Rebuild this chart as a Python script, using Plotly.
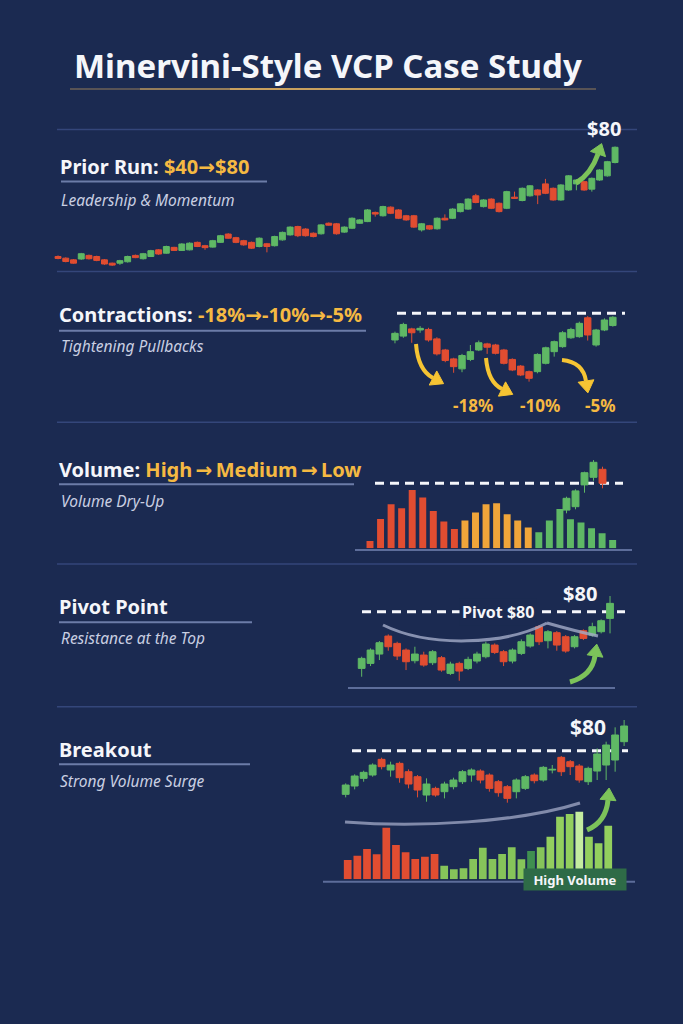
import math
import plotly.graph_objects as go

W, H = 683, 1024
BG = "#1b2a51"
GREEN = "#5fb865"
RED = "#e14d31"
ORANGE = "#f0a53a"
GOLD = "#f5b942"
ARROW_GOLD = "#f6c433"
ARROW_GREEN = "#7cc35a"
WHITE = "#f5f6fa"
SUB = "#c9cfe2"
RULE = "#34467a"
ULINE = "#6c7ca8"
BASE = "#5d6d9a"
FONT = "Noto Sans"
SUBSIZE = 15.5

# ---------------- data ----------------
# Prior run ($40 -> $80)
run_open = [40.6, 40.0, 39.4, 39.7, 41.0, 40.6, 39.4, 38.2, 38.2, 38.7,
            41.0, 39.8, 40.6, 43.0, 41.8, 43.9, 42.8, 43.0, 45.7, 44.5,
            44.0, 45.7, 48.7, 47.4, 46.3, 45.7, 44.2, 45.2, 44.5, 46.6,
            48.4, 51.4, 50.5, 49.0, 48.8, 52.6, 52.4, 49.4, 50.8, 52.6,
            53.2, 56.5, 55.3, 58.4, 57.4, 55.3, 55.3, 50.2, 51.7, 50.6,
            54.4, 54.4, 56.8, 57.7, 62.5, 58.6, 61.3, 59.8, 58.0, 62.0,
            60.8, 62.5, 64.6, 66.8, 65.2, 61.0, 64.6, 66.8, 67.6, 64.9,
            68.2, 69.7, 74.5]
run_high = [41.0, 40.3, 39.7, 41.9, 41.3, 40.9, 39.7, 38.4, 39.4, 40.9,
            41.3, 41.9, 43.0, 43.3, 44.5, 44.1, 45.4, 45.7, 46.0, 44.8,
            46.6, 48.4, 49.0, 47.7, 46.6, 46.0, 47.5, 45.5, 48.1, 49.6,
            51.5, 51.7, 50.8, 49.3, 52.3, 52.9, 52.7, 51.5, 54.7, 54.1,
            57.7, 56.8, 58.9, 58.7, 57.7, 55.6, 55.6, 52.7, 52.0, 54.7,
            55.8, 58.0, 59.9, 61.6, 63.2, 61.3, 61.6, 60.1, 64.3, 64.0,
            65.5, 66.4, 64.9, 68.6, 65.5, 66.7, 70.0, 68.5, 67.9, 69.1,
            72.1, 75.1, 80.3]
run_low = [39.6, 38.5, 38.0, 39.4, 39.5, 38.9, 37.6, 37.2, 37.6, 38.4,
           40.0, 39.5, 40.4, 41.2, 41.6, 42.6, 42.6, 42.8, 44.0, 43.0,
           43.8, 45.5, 47.0, 45.4, 44.5, 43.3, 43.9, 42.1, 44.2, 46.3,
           48.1, 47.6, 47.8, 47.5, 48.5, 51.7, 48.5, 49.1, 50.5, 52.4,
           53.0, 55.0, 55.0, 55.9, 54.1, 53.5, 50.9, 49.6, 50.2, 50.3,
           53.6, 54.1, 56.5, 57.4, 59.8, 58.3, 57.7, 56.5, 57.7, 61.4,
           60.5, 62.2, 59.5, 63.1, 60.7, 60.7, 64.3, 64.5, 64.3, 64.0,
           67.9, 69.4, 74.2]
run_close = [39.9, 38.8, 38.2, 41.6, 39.8, 39.2, 37.9, 37.5, 39.1, 40.6,
             40.2, 41.6, 42.7, 41.5, 44.2, 42.8, 45.1, 45.4, 44.2, 43.8,
             46.3, 48.1, 47.2, 45.7, 44.8, 43.6, 47.2, 44.2, 47.8, 49.3,
             51.2, 48.1, 48.1, 47.8, 52.0, 51.9, 48.8, 51.2, 54.4, 53.8,
             57.4, 55.9, 58.6, 56.2, 54.4, 53.8, 51.2, 52.4, 50.5, 54.4,
             53.8, 57.7, 59.6, 61.3, 60.1, 61.0, 58.0, 56.8, 64.0, 61.6,
             65.2, 66.1, 62.8, 63.4, 61.0, 66.4, 69.7, 68.2, 64.6, 68.8,
             71.8, 74.8, 80.0]

# Contractions (-18% -> -10% -> -5%)
con_open = [75.2, 75.9, 77.2, 77.0, 77.1, 75.4, 73.4, 71.8, 70.0, 71.7,
            73.4, 74.5, 74.3, 73.4, 71.7, 70.5, 69.5, 69.5, 71.0, 73.1,
            74.0, 75.6, 75.8, 79.2, 74.3, 77.0, 77.8]
con_high = [76.7, 78.3, 77.4, 77.7, 77.4, 75.7, 73.6, 72.0, 72.7, 74.3,
            75.1, 74.7, 74.5, 73.6, 71.9, 70.7, 69.7, 72.8, 74.0, 75.1,
            76.8, 77.4, 78.5, 79.5, 77.2, 79.1, 79.5]
con_low = [74.6, 75.6, 74.7, 76.5, 74.9, 72.4, 71.2, 69.3, 69.4, 71.4,
           73.2, 72.7, 72.6, 70.8, 69.6, 68.7, 67.7, 69.2, 70.8, 72.2,
           73.8, 75.4, 75.6, 75.1, 74.0, 76.8, 77.6]
con_close = [76.4, 78.0, 76.5, 77.3, 75.2, 72.7, 71.5, 70.4, 72.4, 73.1,
             74.7, 73.9, 72.8, 71.0, 69.8, 68.9, 68.3, 72.6, 73.8, 74.9,
             76.5, 77.1, 78.2, 76.1, 77.0, 78.8, 79.3]
con_labels = ["-18%", "-10%", "-5%"]

# Volume dry-up
vol_values = [220, 880, 1320, 1200, 1750, 1520, 1120, 800, 580, 830,
              1070, 1320, 1350, 1020, 830, 620, 480, 830, 1180, 870,
              770, 600, 450, 250]
vol_phase = ["High"] * 9 + ["Medium"] * 7 + ["Low"] * 8
volc_open = [73.3, 74.15, 79.6, 81.5, 83.5]
volc_high = [76.65, 78.5, 82.9, 85.8, 84.15]
volc_low = [72.5, 73.5, 77.65, 80.65, 78.75]
volc_close = [76.25, 78.1, 82.65, 85.25, 80.0]

# Pivot point
piv_open = [71.5, 72.25, 73.65, 76.35, 75.25, 74.25, 72.65, 73.5, 72.35, 73.1,
            70.75, 72.25, 71.5, 72.6, 73.25, 75.0, 74.0, 72.6, 73.75, 74.85,
            77.75, 75.65, 76.85, 76.25, 74.75, 77.15, 76.5, 77.0, 79.0]
piv_high = [73.25, 74.5, 75.6, 76.6, 75.5, 74.5, 74.75, 74.0, 74.25, 73.35,
            72.5, 72.5, 73.25, 74.0, 75.5, 75.25, 74.25, 74.5, 75.85, 76.75,
            78.0, 77.25, 77.1, 76.5, 76.5, 77.35, 78.35, 78.85, 82.35]
piv_low = [70.25, 71.85, 72.75, 74.15, 72.75, 71.25, 72.25, 71.75, 72.0, 71.0,
           70.5, 69.65, 71.25, 72.25, 73.0, 73.65, 71.85, 72.25, 73.5, 74.6,
           75.0, 74.5, 74.15, 73.85, 74.5, 75.75, 76.25, 76.75, 76.75]
piv_close = [73.0, 74.25, 75.35, 74.75, 73.35, 72.5, 73.65, 72.0, 74.0, 71.25,
             72.15, 71.1, 72.85, 73.65, 75.15, 73.9, 72.5, 74.25, 75.5, 76.5,
             75.5, 77.0, 75.0, 74.1, 76.25, 76.0, 77.75, 78.65, 81.25]
pivot_price = 80

# Breakout
brk_open = [73.45, 74.7, 75.85, 76.35, 78.7, 77.1, 78.1, 76.85, 76.1, 73.35,
            74.35, 73.85, 74.6, 75.35, 76.35, 76.95, 76.35, 75.35, 74.6, 73.85,
            74.35, 76.35, 75.6, 77.1, 79.0, 78.35, 77.7, 75.35, 76.95, 77.85,
            78.6, 81.35]
brk_high = [75.1, 76.45, 77.0, 78.1, 78.95, 78.35, 78.35, 77.2, 76.35, 75.85,
            74.6, 75.35, 75.95, 77.1, 77.35, 77.2, 76.6, 75.6, 74.85, 75.85,
            76.35, 76.6, 77.7, 77.85, 79.2, 78.6, 78.0, 77.6, 80.35, 81.35,
            83.5, 84.6]
brk_low = [73.0, 74.2, 75.35, 76.1, 77.2, 76.1, 75.2, 74.35, 73.0, 72.35,
           73.1, 72.85, 74.2, 75.0, 75.35, 75.1, 73.85, 73.1, 72.2, 72.85,
           74.1, 75.1, 75.35, 76.6, 76.2, 76.35, 75.2, 74.85, 75.6, 75.6,
           76.85, 80.7]
brk_close = [74.85, 76.2, 76.75, 77.85, 77.6, 77.85, 75.95, 75.0, 74.1, 75.0,
             73.35, 75.0, 75.6, 76.85, 77.1, 75.6, 74.35, 73.7, 72.85, 75.6,
             76.1, 75.5, 77.5, 77.2, 76.85, 77.6, 75.6, 77.35, 79.5, 80.85,
             82.35, 83.7]
brk_volume = [580, 710, 910, 750, 1550, 1030, 810, 610, 680, 760,
              410, 300, 330, 610, 950, 610, 760, 960, 600, 850,
              960, 1280, 1880, 1960, 2030, 1280, 1080, 1610]
brk_vol_side = ["down"] * 10 + ["up"] * 18


# ---------------- helpers ----------------
def X(x):
    return x / W


def Y(y):
    return 1 - y / H


fig = go.Figure()
shapes = []
annotations = []
ARROW = "<span style='font-family:DejaVu Sans'>→</span>"
TS = "\u2009"


def axis_pair(k, xpx, ypx, xr, yr):
    sx = "" if k == 1 else str(k)
    fig.update_layout(**{
        f"xaxis{sx}": dict(domain=[X(xpx[0]), X(xpx[1])], range=xr, visible=False,
                           fixedrange=True, anchor=f"y{sx}",
                           rangeslider=dict(visible=False)),
        f"yaxis{sx}": dict(domain=[Y(ypx[1]), Y(ypx[0])], range=yr, visible=False,
                           fixedrange=True, anchor=f"x{sx}"),
    })
    return f"x{sx}", f"y{sx}"


def candles(axes, x, o, h, l, c, inc=GREEN, dec=RED):
    fig.add_trace(go.Candlestick(
        x=x, open=o, high=h, low=l, close=c, xaxis=axes[0], yaxis=axes[1],
        increasing=dict(line=dict(color=inc, width=1), fillcolor=inc),
        decreasing=dict(line=dict(color=dec, width=1), fillcolor=dec),
        whiskerwidth=0, hoverinfo="skip", showlegend=False))


def hline(x0, x1, y, color, width, dash=None, layer="below", opacity=1):
    d = dict(type="line", xref="paper", yref="paper", x0=X(x0), x1=X(x1), y0=Y(y), y1=Y(y),
             line=dict(color=color, width=width), layer=layer, opacity=opacity)
    if dash:
        d["line"]["dash"] = dash
    shapes.append(d)


def P(x, y):
    return f"{X(x):.5f},{Y(y):.5f}"


def curve(pts, color, width, opacity=1.0):
    if len(pts) == 3:
        path = f"M {P(*pts[0])} Q {P(*pts[1])} {P(*pts[2])}"
    else:
        path = f"M {P(*pts[0])} C {P(*pts[1])} {P(*pts[2])} {P(*pts[3])}"
    shapes.append(dict(type="path", xref="paper", yref="paper", path=path,
                       line=dict(color=color, width=width), opacity=opacity, layer="above"))


def curved_arrow(p0, c, p1, color, width, hl, hw):
    curve([p0, c, p1], color, width)
    dx, dy = p1[0] - c[0], p1[1] - c[1]
    n = math.hypot(dx, dy)
    dx, dy = dx / n, dy / n
    tip = (p1[0] + dx * hl, p1[1] + dy * hl)
    b1 = (p1[0] - dy * hw, p1[1] + dx * hw)
    b2 = (p1[0] + dy * hw, p1[1] - dx * hw)
    shapes.append(dict(type="path", xref="paper", yref="paper",
                       path=f"M {P(*tip)} L {P(*b1)} L {P(*b2)} Z",
                       fillcolor=color, line=dict(color=color, width=1), layer="above"))


def text(x, y, s, size, color=WHITE, xanchor="left", bold=False, italic=False, **kw):
    if bold:
        s = f"<b>{s}</b>"
    if italic:
        s = f"<i>{s}</i>"
    annotations.append(dict(x=X(x), y=Y(y), xref="paper", yref="paper", text=s,
                            showarrow=False, xanchor=xanchor, yanchor="middle",
                            font=dict(family=FONT, size=size, color=color), **kw))


# ---------------- title ----------------
text(328, 65, "Minervini-Style VCP Case Study", 33, xanchor="center", bold=True)
for (a, b, op) in [(70, 140, 0.35), (140, 230, 0.7), (230, 460, 1.0), (460, 540, 0.7), (540, 596, 0.35)]:
    hline(a, b, 89, "#c9a15e", 2, opacity=op)

# section separators
for yy in [129.5, 271.5, 422.3, 564, 706.7]:
    hline(57, 637, yy, RULE, 1.5)

# ---------------- section 1: prior run ----------------
ax1 = axis_pair(1, (50.3, 622.8), (136.2, 274.8), [0, 74], [34, 84])
candles(ax1, list(range(1, len(run_open) + 1)), run_open, run_high, run_low, run_close)
text(58, 166.5, f"Prior Run: <span style='color:{GOLD}'>$40{ARROW}$80</span>", 20, bold=True)
hline(61, 267, 181.5, ULINE, 2)
text(59, 200, "Leadership &amp; Momentum", SUBSIZE, color=SUB, italic=True)
curved_arrow((576, 183), (591, 174), (598, 154), ARROW_GREEN, 5, 11, 8)
text(604, 128, "$80", 20, xanchor="center", bold=True)

# ---------------- section 2: contractions ----------------
ax2 = axis_pair(2, (386.6, 629.6), (305, 402.2), [0, 29], [64, 81.5])
candles(ax2, list(range(1, len(con_open) + 1)), con_open, con_high, con_low, con_close)
hline(397, 625, 313.3, WHITE, 3, dash="9px,6px")
text(57, 314, f"Contractions: <span style='color:{GOLD}'>{ARROW.join(con_labels)}</span>", 20, bold=True)
hline(59, 366, 330.7, ULINE, 2)
text(59, 346, "Tightening Pullbacks", SUBSIZE, color=SUB, italic=True)
curved_arrow((416, 344), (418, 370), (433, 378), ARROW_GOLD, 4, 12, 8)
curved_arrow((486, 358), (488, 382), (502, 389), ARROW_GOLD, 4, 12, 8)
curved_arrow((562, 360), (583, 362), (586, 381), ARROW_GOLD, 4, 12, 8)
for lab, xx in zip(con_labels, [473, 540, 600]):
    text(xx, 405, lab, 17, color=GOLD, xanchor="center", bold=True)

# ---------------- section 3: volume ----------------
ax3 = axis_pair(3, (359.45, 623.2), (481.6, 548.3), [0, 25], [0, 2000])
phase_color = {"High": RED, "Medium": ORANGE, "Low": GREEN}
fig.add_trace(go.Bar(x=list(range(1, len(vol_values) + 1)), y=vol_values,
                     marker=dict(color=[phase_color[p] for p in vol_phase], line=dict(width=0)),
                     width=0.66, xaxis=ax3[0], yaxis=ax3[1], hoverinfo="skip", showlegend=False))
ax4 = axis_pair(4, (557.5, 611.5), (451.3, 523.3), [-1, 5], [70, 88])
candles(ax4, list(range(len(volc_open))), volc_open, volc_high, volc_low, volc_close)
hline(375, 623, 483.3, WHITE, 3, dash="9px,6px")
hline(355, 632, 550, BASE, 2)
phases = list(dict.fromkeys(vol_phase))
text(57, 469, f"Volume: <span style='color:{GOLD}'>{(TS + ARROW + TS).join(phases)}</span>", 20, bold=True)
hline(59, 354, 484.3, ULINE, 2)
text(59, 500.7, "Volume Dry-Up", SUBSIZE, color=SUB, italic=True)

# ---------------- section 4: pivot ----------------
ax5 = axis_pair(5, (352.8, 618.9), (591.7, 688.4), [0, 30], [68.5, 83])
candles(ax5, list(range(1, len(piv_open) + 1)), piv_open, piv_high, piv_low, piv_close)
hline(362, 625, 611.7, WHITE, 3, dash="9px,6px")
curve([(383, 625), (430, 648), (505, 645), (547, 623)], "#a3abc8", 3, 0.8)
curve([(547, 623), (575, 631), (598, 636)], "#a3abc8", 3, 0.8)
hline(348, 615, 688, BASE, 2)
text(498, 611.7, f"Pivot ${pivot_price}", 16, xanchor="center", bold=True,
     bgcolor=BG, borderpad=2)
text(580, 593, f"${pivot_price}", 20, xanchor="center", bold=True)
curved_arrow((570, 682), (592, 676), (595, 656), ARROW_GREEN, 5, 12, 8)
text(57, 606, "Pivot Point", 20, bold=True)
hline(59, 252, 622.3, ULINE, 2)
text(59, 637.7, "Resistance at the Top", SUBSIZE, color=SUB, italic=True)

# ---------------- section 5: breakout ----------------
ax6 = axis_pair(6, (336.7, 633.1), (714.0, 810.7), [0, 33], [71, 85.5])
candles(ax6, list(range(1, len(brk_open) + 1)), brk_open, brk_high, brk_low, brk_close)
hline(352, 628, 750.7, WHITE, 3, dash="9px,6px")
ax7 = axis_pair(7, (338.05, 617.9), (806, 879.3), [0, 29], [0, 2200])
bcol = []
for i, side in enumerate(brk_vol_side):
    if side == "down":
        bcol.append(RED)
    elif i == 19:
        bcol.append("#3f8f50")
    elif i == 24:
        bcol.append("#c4eca0")
    elif i >= 21:
        bcol.append("#93cf5e")
    else:
        bcol.append("#86c45a")
fig.add_trace(go.Bar(x=list(range(1, len(brk_volume) + 1)), y=brk_volume,
                     marker=dict(color=bcol, line=dict(width=0)),
                     width=0.8, xaxis=ax7[0], yaxis=ax7[1], hoverinfo="skip", showlegend=False))
curve([(345, 822), (420, 828), (520, 822), (580, 803)], "#a3abc8", 3, 0.75)
hline(323, 635, 881.7, BASE, 2)
curved_arrow((587, 830), (606, 822), (608, 800), ARROW_GREEN, 5, 12, 8)
text(588, 727, "$80", 21, xanchor="center", bold=True)
text(575, 879.5, "High Volume", 13, xanchor="center", bold=True,
     bgcolor="#2e6b47", width=100, height=19, borderpad=1)
text(57, 749, "Breakout", 20, bold=True)
hline(59, 250, 764.3, ULINE, 2)
text(58, 780.7, "Strong Volume Surge", SUBSIZE, color=SUB, italic=True)

fig.update_layout(
    width=W, height=H, margin=dict(l=0, r=0, t=0, b=0),
    paper_bgcolor=BG, plot_bgcolor="rgba(0,0,0,0)",
    showlegend=False, boxgap=0.1, boxgroupgap=0.15,
    shapes=shapes, annotations=annotations,
    font=dict(family=FONT, color=WHITE),
)

fig.write_html("out.html", config={"displayModeBar": False},
               post_script=f"document.body.style.margin='0';document.body.style.background='{BG}';")
